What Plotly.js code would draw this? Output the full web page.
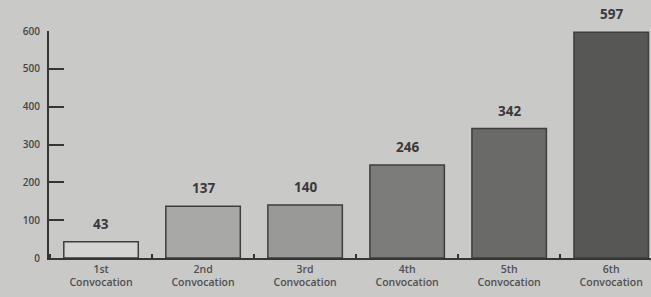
<!DOCTYPE html>
<html>
<head>
<meta charset="utf-8">
<script src="https://cdn.plot.ly/plotly-3.0.1.min.js"></script>
<style>html,body{margin:0;padding:0;background:#c9c9c7;}#chart{width:651px;height:297px;}</style>
</head>
<body>
<div id="chart"></div>
<script>
var categories = ["1st<br>Convocation", "2nd<br>Convocation", "3rd<br>Convocation", "4th<br>Convocation", "5th<br>Convocation", "6th<br>Convocation"];
var values = [43, 137, 140, 246, 342, 597];
var barColors = ["#d4d4d2", "#a8a8a6", "#999997", "#7c7c7a", "#6a6a68", "#575755"];
var yTicks = [0, 100, 200, 300, 400, 500, 600];

var positions = categories.map(function (c, i) { return i; });

var trace = {
  type: "bar",
  x: positions,
  y: values,
  cliponaxis: false,
  marker: {color: barColors, line: {color: "#3e3e3e", width: 1.5}},
  hoverinfo: "none"
};

var annotations = values.map(function (v, i) {
  return {
    x: positions[i], y: v, xref: "x", yref: "y",
    text: String(v), showarrow: false,
    yanchor: "bottom", yshift: 7,
    font: {family: "Open Sans", size: 13.5, color: "#3a3a3a", weight: 700}
  };
});

var layout = {
  width: 651,
  height: 297,
  margin: {l: 49, r: 0, t: 31, b: 39},
  paper_bgcolor: "#c9c9c7",
  plot_bgcolor: "#c9c9c7",
  showlegend: false,
  bargap: 0.27,
  annotations: annotations,
  xaxis: {
    type: "linear",
    range: [-0.51, 5.39],
    tickvals: positions,
    ticktext: categories,
    ticks: "",
    showgrid: false,
    zeroline: false,
    showline: true,
    linecolor: "#353535",
    linewidth: 2,
    tickfont: {family: "Open Sans", size: 10.5, color: "#505050", weight: 600},
    minor: {ticks: "inside", ticklen: 4, tickwidth: 1.5, tickcolor: "#353535", tick0: 0.5, dtick: 1, showgrid: false}
  },
  yaxis: {
    range: [0, 600],
    tickvals: yTicks,
    ticks: "inside",
    ticklen: 15,
    tickwidth: 2,
    tickcolor: "#353535",
    showgrid: false,
    zeroline: false,
    showline: true,
    linecolor: "#353535",
    linewidth: 2,
    ticklabelstandoff: 5,
    tickfont: {family: "Open Sans", size: 10, color: "#454545", weight: 600}
  }
};

Plotly.newPlot("chart", [trace], layout, {displayModeBar: false, staticPlot: true});
</script>
</body>
</html>
